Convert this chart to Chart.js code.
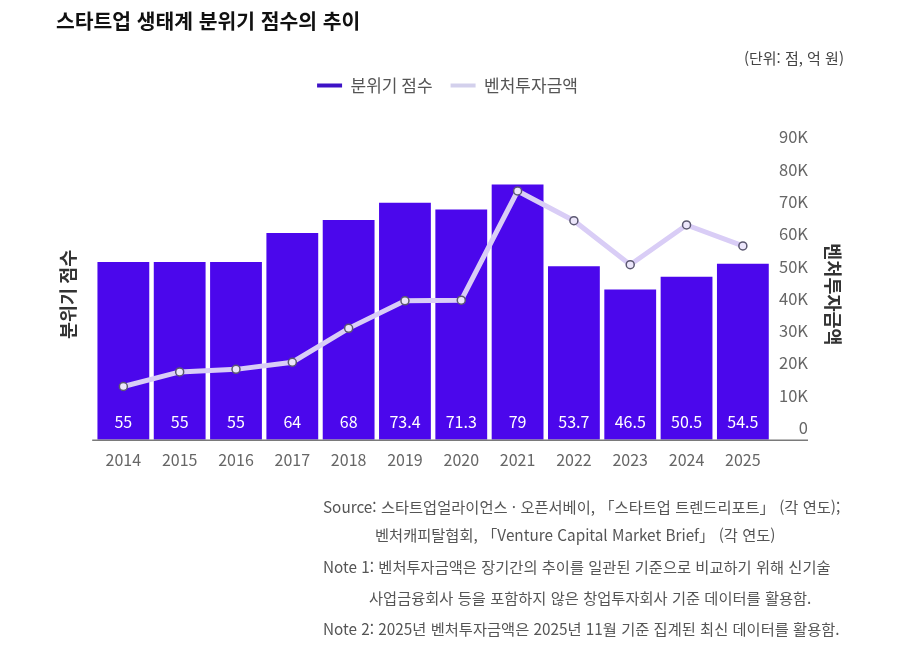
<!DOCTYPE html>
<html lang="ko">
<head>
<meta charset="utf-8">
<title>스타트업 생태계 분위기 점수의 추이</title>
<script src="https://cdn.jsdelivr.net/npm/chart.js@4.4.1/dist/chart.umd.min.js"></script>
<style>
    html, body { margin: 0; padding: 0; background: #fff; }
    body { width: 900px; height: 648px; position: relative; overflow: hidden;
           font-family: "Noto Sans CJK KR", "Noto Sans", sans-serif; }
    #wrap { position: absolute; left: 0; top: 0; width: 900px; height: 648px; }
    .title { position: absolute; left: 56px; top: 5px; font-size: 20.4px; font-weight: bold; color: #111; }
    .unit { position: absolute; right: 56px; top: 47px; font-size: 15px; color: #444; }
    .note { position: absolute; font-size: 15.3px; color: #555; white-space: nowrap; line-height: 20px; }
</style>
</head>
<body>
<div id="wrap"><canvas id="chart"></canvas></div>
<div class="title">스타트업 생태계 분위기 점수의 추이</div>
<div class="unit">(단위: 점, 억 원)</div>
<div class="note" style="left:323px; top:496px;">Source: 스타트업얼라이언스 · 오픈서베이, 「스타트업 트렌드리포트」 (각 연도);</div>
<div class="note" style="left:375px; top:524px;">벤처캐피탈협회, 「Venture Capital Market Brief」 (각 연도)</div>
<div class="note" style="left:323px; top:556px;">Note 1: 벤처투자금액은 장기간의 추이를 일관된 기준으로 비교하기 위해 신기술</div>
<div class="note" style="left:369px; top:587px;">사업금융회사 등을 포함하지 않은 창업투자회사 기준 데이터를 활용함.</div>
<div class="note" style="left:323px; top:618px;">Note 2: 2025년 벤처투자금액은 2025년 11월 기준 집계된 최신 데이터를 활용함.</div>
<script>
const years = ['2014', '2015', '2016', '2017', '2018', '2019', '2020', '2021', '2022', '2023', '2024', '2025'];
const moodScore = [55, 55, 55, 64, 68, 73.4, 71.3, 79, 53.7, 46.5, 50.5, 54.5];
const ventureInvest = [16500, 21000, 21800, 24000, 34500, 43000, 43200, 77000, 67800, 54200, 66500, 60000];
const rightTicks = [0, 10000, 20000, 30000, 40000, 50000, 60000, 70000, 80000, 90000];

const colors = {
    bar: '#4b07ec',
    line: '#d9cdf6',
    legendLine: '#d3d0ec',
    point: '#ece6fb',
    pointBorder: '#5b5870',
    tick: '#666',
    axis: '#7a7a7a'
};

const fontFamily = '"Noto Sans CJK KR", "Noto Sans", sans-serif';

// bar value labels at the bottom of each bar
const barLabels = {
    id: 'barLabels',
    afterDatasetsDraw(chart) {
        const meta = chart.getDatasetMeta(0);
        const ctx = chart.ctx;
        ctx.save();
        ctx.fillStyle = '#fff';
        ctx.font = '16px ' + fontFamily;
        ctx.textAlign = 'center';
        ctx.textBaseline = 'middle';
        meta.data.forEach((bar, i) => {
            ctx.fillText(String(moodScore[i]), bar.x, chart.chartArea.bottom - 18);
        });
        ctx.restore();
    }
};

// baseline under the bars and the right axis labels, plus right axis title
const axisExtras = {
    id: 'axisExtras',
    afterDraw(chart) {
        const ctx = chart.ctx;
        const area = chart.chartArea;
        const right = chart.scales.y1.right;
        ctx.save();
        ctx.strokeStyle = colors.axis;
        ctx.lineWidth = 1.5;
        ctx.beginPath();
        ctx.moveTo(area.left - 3, area.bottom + 0.5);
        ctx.lineTo(right, area.bottom + 0.5);
        ctx.stroke();

        ctx.translate(right + 25, (area.top + area.bottom) / 2);
        ctx.rotate(Math.PI / 2);
        ctx.fillStyle = '#333';
        ctx.font = 'bold 18.5px ' + fontFamily;
        ctx.textAlign = 'center';
        ctx.textBaseline = 'middle';
        ctx.fillText('벤처투자금액', 0, 0);
        ctx.restore();
    }
};

// extra room between the legend and the plot, and legend nudged right
const legendGap = {
    id: 'legendGap',
    beforeLayout(chart) {
        const lg = chart.legend;
        if (lg && !lg._gapPatched) {
            const fit = lg.fit;
            lg.fit = function () {
                fit.call(this);
                this.height += 45;
            };
            lg._gapPatched = true;
        }
    },
    afterLayout(chart) {
        const lg = chart.legend;
        if (lg) {
            lg.left += 17;
            lg.right += 17;
        }
    }
};

new Chart(document.getElementById('chart'), {
    data: {
        labels: years,
        datasets: [{
            type: 'bar',
            label: '분위기 점수',
            data: moodScore,
            yAxisID: 'y',
            backgroundColor: colors.bar,
            categoryPercentage: 1,
            barPercentage: 0.92,
            order: 2
        }, {
            type: 'line',
            label: '벤처투자금액',
            data: ventureInvest,
            yAxisID: 'y1',
            borderColor: colors.line,
            backgroundColor: colors.line,
            borderWidth: 5,
            tension: 0,
            pointRadius: 4,
            pointBorderWidth: 1.5,
            pointBackgroundColor: colors.point,
            pointBorderColor: colors.pointBorder,
            order: 1
        }]
    },
    plugins: [barLabels, axisExtras, legendGap],
    options: {
        responsive: true,
        maintainAspectRatio: false,
        animation: false,
        layout: { padding: { top: 59, left: 53, right: 92, bottom: 167 } },
        plugins: {
            legend: {
                position: 'top',
                labels: {
                    boxWidth: 25,
                    boxHeight: 4,
                    padding: 18,
                    color: '#555',
                    font: { family: fontFamily, size: 17 },
                    generateLabels(chart) {
                        return chart.data.datasets.map((ds, i) => ({
                            text: ds.label,
                            fillStyle: i === 0 ? '#3d12c6' : colors.legendLine,
                            strokeStyle: 'transparent',
                            lineWidth: 0,
                            fontColor: '#555',
                            datasetIndex: i
                        }));
                    }
                }
            },
            tooltip: { enabled: false }
        },
        scales: {
            x: {
                grid: { display: false, drawTicks: false },
                border: { display: false },
                ticks: {
                    color: colors.tick,
                    padding: 11,
                    font: { family: fontFamily, size: 16 }
                }
            },
            y: {
                position: 'left',
                min: 0,
                max: 90,
                grid: { display: false, drawTicks: false },
                border: { display: false },
                ticks: { display: false },
                title: {
                    display: true,
                    text: '분위기 점수',
                    color: '#333',
                    padding: { top: 4, bottom: 16 },
                    font: { family: fontFamily, size: 18.5, weight: 'bold' }
                }
            },
            y1: {
                position: 'right',
                min: 0,
                max: 90000,
                afterBuildTicks(scale) {
                    scale.ticks = rightTicks.map(v => ({ value: v }));
                },
                grid: { display: false, drawTicks: false },
                border: { display: false },
                ticks: {
                    color: colors.tick,
                    padding: 4,
                    crossAlign: 'far',
                    labelOffset: -12,
                    font: { family: fontFamily, size: 16.5 },
                    callback: v => v === 0 ? '0' : (v / 1000) + 'K'
                }
            }
        }
    }
});
</script>
</body>
</html>
